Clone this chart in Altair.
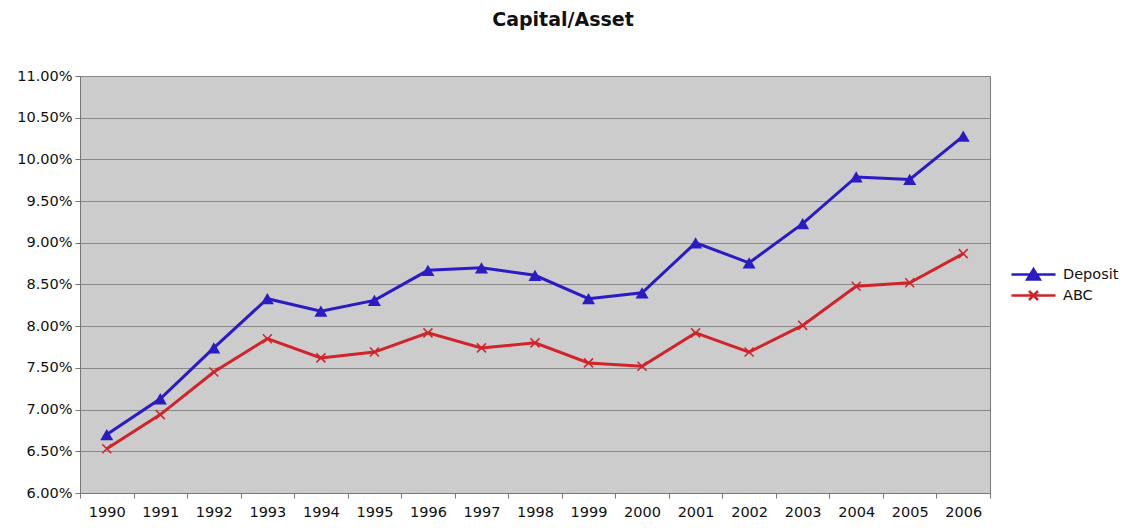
import altair as alt
import pandas as pd

years = [str(y) for y in range(1990, 2007)]
deposit = [0.0670, 0.0713, 0.0774, 0.0833, 0.0818, 0.0831, 0.0867, 0.0870, 0.0861,
           0.0833, 0.0840, 0.0900, 0.0876, 0.0923, 0.0979, 0.0976, 0.1028]
abc = [0.0653, 0.0694, 0.0745, 0.0785, 0.0762, 0.0769, 0.0792, 0.0774, 0.0780,
       0.0756, 0.0752, 0.0792, 0.0769, 0.0801, 0.0848, 0.0852, 0.0887]
series = ["Deposit", "ABC"]
colors = ["#2A1BC4", "#D1232A"]
y_ticks = [0.06, 0.065, 0.07, 0.075, 0.08, 0.085, 0.09, 0.095, 0.10, 0.105, 0.11]

rows = []
for i, y in enumerate(years):
    rows.append({"year": y, "series": "Deposit", "value": deposit[i]})
    rows.append({"year": y, "series": "ABC", "value": abc[i]})
df = pd.DataFrame(rows)

FONT = "DejaVu Sans"

x_enc = alt.X(
    "year:O",
    bandPosition=0.5,
    scale=alt.Scale(type="band", paddingInner=0, paddingOuter=0),
    axis=alt.Axis(title=None, tickBand="extent", labelAngle=0, labelFont=FONT,
                  labelFontSize=14.5, labelColor="#111111", labelPadding=7,
                  tickSize=5, tickColor="#777777", domainColor="#777777",
                  grid=False),
)
y_enc = alt.Y(
    "value:Q",
    scale=alt.Scale(domain=[0.06, 0.11], nice=False, zero=False),
    axis=alt.Axis(title=None, values=y_ticks, format=".2%", labelFont=FONT,
                  labelFontSize=14.5, labelColor="#111111", labelPadding=3,
                  tickSize=5, tickColor="#777777", domainColor="#777777",
                  grid=True, gridColor="#888888", gridWidth=1),
)

base = alt.Chart(df)
dep = base.transform_filter(alt.datum.series == "Deposit")
abc_base = base.transform_filter(alt.datum.series == "ABC")

line_dep = dep.mark_line(strokeWidth=3, color=colors[0]).encode(x=x_enc, y=y_enc)
line_abc = abc_base.mark_line(strokeWidth=3, color=colors[1]).encode(x=x_enc, y=y_enc)

tri = dep.mark_point(
    shape="triangle-up", filled=True, size=170, color=colors[0], opacity=1
).encode(x=x_enc, y=y_enc)

xmark = abc_base.mark_point(
    shape="M-1,-1L1,1M-1,1L1,-1", filled=False, size=81, color=colors[1],
    strokeWidth=1.5, opacity=1
).encode(x=x_enc, y=y_enc)

legend_paths = [
    "M-2.45,0L2.45,0M-0.7,0.55L0,-0.6L0.7,0.55ZM-0.35,0.3L0,-0.2L0.35,0.3ZM0,-0.3L0,0.45",
    "M-2.45,0L2.45,0M-0.5,-0.5L0.5,0.5M-0.5,0.5L0.5,-0.5",
]
leg = alt.Legend(title=None, orient="none", legendX=943, legendY=188, padding=0,
                 symbolSize=324, symbolStrokeWidth=2.5, symbolOpacity=1,
                 labelFont=FONT, labelFontSize=14.5, labelColor="#111111",
                 labelOffset=19, rowPadding=0)

legend_layer = base.mark_point(filled=False, size=0, opacity=1).encode(
    x=x_enc, y=y_enc,
    shape=alt.Shape("series:N", scale=alt.Scale(domain=series, range=legend_paths), legend=leg),
    stroke=alt.Stroke("series:N", scale=alt.Scale(domain=series, range=colors), legend=leg),
)

chart = alt.layer(line_dep, line_abc, tri, xmark, legend_layer).properties(
    width=910, height=417,
    background="white",
    title=alt.TitleParams("Capital/Asset", font=FONT, fontSize=19, fontWeight="bold",
                          color="#111111", anchor="middle", dx=28, offset=38),
    autosize=alt.AutoSizeParams(type="none"),
    padding={"left": 72, "top": 68, "right": 129, "bottom": 27},
).configure_view(
    fill="#CCCCCC", stroke="#777777", strokeWidth=1
)

chart.save("out.html", embed_options={"renderer": "svg", "actions": False})
